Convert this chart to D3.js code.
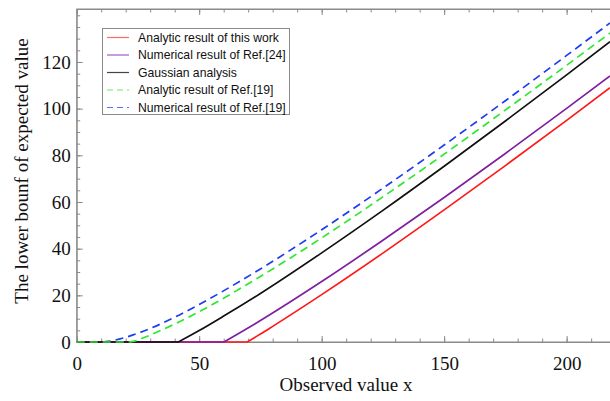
<!DOCTYPE html>
<html>
<head>
<meta charset="utf-8">
<script src="https://cdn.jsdelivr.net/npm/d3@7"></script>
<style>
  body { margin: 0; background: #fff; }
  svg { display: block; }
</style>
</head>
<body>
<div id="chart"></div>
<script>
// values
var redX = [0, 69.6, 75, 80, 100, 125, 150, 175, 200, 217.7];
var redY = [0, 0, 3.4, 6.7, 20.3, 38.1, 56.6, 75.6, 95.0, 109.0];

var purpleX = [0, 60.1, 75, 100, 125, 150, 175, 200, 217.7];
var purpleY = [0, 0, 9.2, 25.9, 43.6, 61.9, 80.8, 100.1, 114.0];

var blackX = [0, 41.5, 50, 60, 75, 100, 125, 150, 175, 200, 217.7];
var blackY = [0, 0, 4.9, 11.1, 20.8, 38.2, 56.4, 75.3, 94.7, 114.5, 128.7];

var greenX = [0, 21, 24, 27, 30, 40, 50, 75, 100, 125, 150, 175, 200, 217.7];
var greenY = [0, 0, 0.5, 1.7, 3.0, 7.7, 13.0, 28.1, 44.6, 62.2, 80.5, 99.4, 118.6, 132.4];

var blueX = [0, 9.4, 12, 15, 20, 25, 30, 40, 50, 75, 100, 125, 150, 175, 200, 217.7];
var blueY = [0, 0, 0.16, 0.66, 2.0, 3.75, 5.8, 10.6, 16.1, 31.3, 48.1, 65.9, 84.4, 103.4, 122.8, 136.7];

var legendNames = ["Analytic result of this work", "Numerical result of Ref.[24]", "Gaussian analysis",
                   "Analytic result of Ref.[19]", "Numerical result of Ref.[19]"];
var xTicks = [0, 50, 100, 150, 200];
var yTicks = [0, 20, 40, 60, 80, 100, 120];

var W = 610, H = 401;
var plotLeft = 76.7, plotRight = 610, plotTop = 9, plotBottom = 342;

var svg = d3.select("#chart").append("svg")
    .attr("width", W)
    .attr("height", H);

var x = d3.scaleLinear().domain([0, 217.7]).range([plotLeft, plotRight]);
var y = d3.scaleLinear().domain([0, 142.7]).range([plotBottom, plotTop]);

var frameColor = "#8a8a8a";
var serif = "'Liberation Serif', 'Times New Roman', serif";

// minor ticks first, majors on top
var xMinor = d3.range(0, 218, 10);
var yMinor = d3.range(0, 143, 5);

svg.append("g").attr("transform", "translate(0," + plotBottom + ")")
    .call(d3.axisBottom(x).tickValues(xMinor).tickSize(-3.5).tickFormat(""))
    .call(g => g.select(".domain").remove());
svg.append("g").attr("transform", "translate(0," + plotTop + ")")
    .call(d3.axisTop(x).tickValues(xMinor).tickSize(-3.5).tickFormat(""))
    .call(g => g.select(".domain").remove());
svg.append("g").attr("transform", "translate(" + plotLeft + ",0)")
    .call(d3.axisLeft(y).tickValues(yMinor).tickSize(-3.5).tickFormat(""))
    .call(g => g.select(".domain").remove());

svg.append("g").attr("transform", "translate(0," + plotBottom + ")")
    .call(d3.axisBottom(x).tickValues(xTicks).tickSize(-6).tickPadding(15).tickSizeOuter(0));
svg.append("g").attr("transform", "translate(0," + plotTop + ")")
    .call(d3.axisTop(x).tickValues(xTicks).tickSize(-6).tickFormat("").tickSizeOuter(0));
svg.append("g").attr("transform", "translate(" + plotLeft + ",0)")
    .call(d3.axisLeft(y).tickValues(yTicks).tickSize(-6).tickPadding(6).tickSizeOuter(0));

svg.selectAll(".tick line").attr("stroke", frameColor);
svg.selectAll(".domain").attr("stroke", frameColor);
svg.selectAll(".tick text")
    .attr("font-family", serif)
    .attr("font-size", "19px")
    .attr("fill", "#111");

// frame
svg.append("rect")
    .attr("x", plotLeft).attr("y", plotTop)
    .attr("width", plotRight - plotLeft + 2).attr("height", plotBottom - plotTop)
    .attr("fill", "none")
    .attr("stroke", frameColor)
    .attr("stroke-width", 1);

// curves
svg.append("clipPath").attr("id", "clip")
  .append("rect").attr("x", plotLeft).attr("y", plotTop - 2)
  .attr("width", plotRight - plotLeft).attr("height", plotBottom - plotTop + 4);

var smoothLine = d3.line().x(d => x(d[0])).y(d => y(d[1])).curve(d3.curveMonotoneX);
var flatLine = d3.line().x(d => x(d[0])).y(d => y(d[1]));

var series = [
  { xs: blueX,   ys: blueY,   color: "#1f3cf0", dash: "8,5", kink: false },
  { xs: redX,    ys: redY,    color: "#ff1a1a", dash: null,  kink: true },
  { xs: purpleX, ys: purpleY, color: "#8020a0", dash: null,  kink: true },
  { xs: blackX,  ys: blackY,  color: "#111111", dash: null,  kink: true },
  { xs: greenX,  ys: greenY,  color: "#2de82d", dash: "8,5", kink: false }
];

var plot = svg.append("g").attr("clip-path", "url(#clip)");
series.forEach(function (s) {
  var pts = s.xs.map((v, i) => [v, s.ys[i]]);
  var d;
  if (s.kink) {
    // flat part straight, rising part smooth, with a sharp corner between
    var k = 1;
    var flat = flatLine(pts.slice(0, k + 1));
    var rise = smoothLine(pts.slice(k));
    d = flat + "L" + rise.slice(1);
  } else {
    d = smoothLine(pts);
  }
  plot.append("path")
      .attr("fill", "none")
      .attr("stroke", s.color)
      .attr("stroke-width", 1.7)
      .attr("stroke-linejoin", "round")
      .attr("stroke-dasharray", s.dash)
      .attr("d", d);
});

// legend
var legendColors = ["#ff6a6a", "#9a5ad0", "#444444", "#66ee66", "#5a6ef0"];
var legendDash = [null, null, null, "6,4", "6,4"];
var lg = svg.append("g");
lg.append("rect")
    .attr("x", 102.5).attr("y", 28.5)
    .attr("width", 187).attr("height", 86)
    .attr("fill", "#fff")
    .attr("stroke", "#8a8a8a");
legendNames.forEach(function (name, i) {
  var yy = 37.5 + i * 17.5;
  lg.append("line")
      .attr("x1", 107).attr("x2", 129)
      .attr("y1", yy).attr("y2", yy)
      .attr("stroke", legendColors[i])
      .attr("stroke-width", 1.2)
      .attr("stroke-dasharray", legendDash[i]);
  lg.append("text")
      .attr("x", 138).attr("y", yy)
      .attr("dy", "0.35em")
      .attr("font-family", "'Liberation Sans', Arial, sans-serif")
      .attr("font-size", "12.2px")
      .attr("fill", "#111")
      .text(name);
});

// axis titles
svg.append("text")
    .attr("x", 346).attr("y", 391)
    .attr("text-anchor", "middle")
    .attr("font-family", serif)
    .attr("font-size", "19px")
    .attr("fill", "#111")
    .text("Observed value x");

svg.append("text")
    .attr("transform", "translate(28,171) rotate(-90)")
    .attr("text-anchor", "middle")
    .attr("font-family", serif)
    .attr("font-size", "19px")
    .attr("fill", "#111")
    .text("The lower bounf of expected value");
</script>
</body>
</html>
